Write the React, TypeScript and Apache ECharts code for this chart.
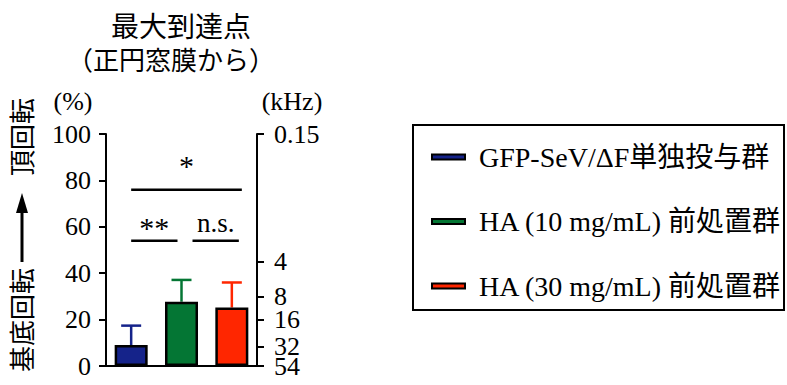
import React, { useEffect, useRef } from "react";
import * as echarts from "echarts";

const categories = ["GFP-SeV/ΔF単独投与群", "HA (10 mg/mL) 前処置群", "HA (30 mg/mL) 前処置群"];
const seriesNames = ["GFP-SeV/ΔF単独投与群", "HA (10 mg/mL) 前処置群", "HA (30 mg/mL) 前処置群"];
const meanValues = [9, 27.7, 25.2];
const errorValues = [8.4, 9.4, 10.8];
const barColors = ["#15238a", "#047634", "#ff2600"];
const rightTickPositions = [0, 8.3, 20, 30, 45, 100];
const rightTickLabels = ["54", "32", "16", "8", "4", "0.15"];
const sigPairs = [[0, 2], [0, 1], [1, 2]];
const sigLevels = [76, 54, 54];
const sigLabels = ["*", "**", "n.s."];

const SERIF = "'Liberation Serif', 'Times New Roman', 'Noto Sans CJK JP', serif";

function txt(text: string, x: number, y: number, size: number, extra: any = {}, align = "center") {
  return {
    type: "text",
    x,
    y,
    ...extra,
    style: { text, fontFamily: SERIF, fontSize: size, fill: "#000", align, verticalAlign: "middle" },
  };
}

export default function App() {
  const ref = useRef<HTMLDivElement>(null);
  useEffect(() => {
    document.body.style.margin = "0";
    const chart = echarts.init(ref.current!, null, { renderer: "svg" });

    const staticGraphics: any[] = [
      txt("最大到達点", 181, 27, 28),
      txt("（正円窓膜から）", 171, 61, 26),
      txt("(%)", 73, 101, 26),
      txt("(kHz)", 292, 101, 26),
      txt("基底回転", 23, 320, 26, { rotation: Math.PI / 2 }),
      txt("頂回転", 23, 137, 26, { rotation: Math.PI / 2 }),
      { type: "line", shape: { x1: 22, y1: 262, x2: 22, y2: 208 }, style: { stroke: "#000", lineWidth: 3 } },
      { type: "polygon", shape: { points: [[16, 213], [28, 213], [22, 193]] }, style: { fill: "#000" } },
      { type: "rect", shape: { x: 413, y: 125, width: 371, height: 185 }, style: { fill: "none", stroke: "#000", lineWidth: 2 } },
    ];

    const option: any = {
      animation: false,
      grid: { left: 106, right: 530, top: 134, bottom: 19, containLabel: false },
      legend: {
        orient: "vertical",
        left: 426,
        top: 137,
        icon: "rect",
        itemWidth: 33,
        itemHeight: 5,
        itemGap: 34.5,
        data: seriesNames,
        selectedMode: false,
        textStyle: { fontFamily: SERIF, fontSize: 28, color: "#000", lineHeight: 30, padding: [0, 0, 0, 9] },
      },
      xAxis: {
        type: "category",
        data: categories,
        axisLine: { lineStyle: { color: "#000", width: 2 } },
        axisTick: { show: false },
        axisLabel: { show: false },
      },
      yAxis: [
        {
          type: "value",
          min: 0,
          max: 100,
          interval: 20,
          position: "left",
          splitLine: { show: false },
          axisLine: { show: true, lineStyle: { color: "#000", width: 2 } },
          axisTick: { show: true, length: 7, lineStyle: { color: "#000", width: 2 } },
          axisLabel: { margin: 15, fontFamily: SERIF, fontSize: 26, color: "#000", showMinLabel: true, showMaxLabel: true },
        },
        {
          type: "value",
          min: 0,
          max: 100,
          position: "right",
          splitLine: { show: false },
          axisLine: { show: true, lineStyle: { color: "#000", width: 2 } },
          axisTick: { show: true, length: 7, lineStyle: { color: "#000", width: 2 }, customValues: rightTickPositions },
          axisLabel: { show: false },
        },
      ],
      series: [
        ...seriesNames.map((name, i) => ({
          name,
          type: "bar",
          barWidth: 33,
          barGap: "-100%",
          data: categories.map((_, j) => (j === i ? meanValues[i] : "-")),
          itemStyle: { color: barColors[i], borderColor: "#000", borderWidth: 2.5 },
          z: 3,
        })),
        {
          type: "custom",
          name: "err",
          z: 2,
          data: meanValues.map((v, i) => [i, v, v + errorValues[i]]),
          renderItem: (params: any, api: any) => {
            const i = api.value(0);
            const p0 = api.coord([i, api.value(1)]);
            const p1 = api.coord([i, api.value(2)]);
            const c = barColors[i];
            const hw = 10;
            return {
              type: "group",
              children: [
                { type: "line", shape: { x1: p0[0], y1: p0[1], x2: p1[0], y2: p1[1] }, style: { stroke: c, lineWidth: 2.5 } },
                { type: "line", shape: { x1: p1[0] - hw, y1: p1[1], x2: p1[0] + hw, y2: p1[1] }, style: { stroke: c, lineWidth: 2.5 } },
              ],
            };
          },
        },
      ],
      graphic: staticGraphics,
    };
    chart.setOption(option);

    const lineOffsets = [[0, 10], [0, -4], [11, 7]];
    const textLift = [24, 13, 18];
    const textSizes = [30, 30, 27];
    const dynGraphics: any[] = [];
    sigPairs.forEach((pair, k) => {
      const a = chart.convertToPixel({ gridIndex: 0 }, [pair[0], sigLevels[k]]) as number[];
      const b = chart.convertToPixel({ gridIndex: 0 }, [pair[1], sigLevels[k]]) as number[];
      const x1 = a[0] + lineOffsets[k][0];
      const x2 = b[0] + lineOffsets[k][1];
      const y = a[1];
      dynGraphics.push({ type: "line", shape: { x1, y1: y, x2, y2: y }, style: { stroke: "#000", lineWidth: 2.5 } });
      dynGraphics.push(txt(sigLabels[k], (x1 + x2) / 2, y - textLift[k], textSizes[k]));
    });
    const rightAxisX = chart.getWidth() - 530;
    rightTickPositions.forEach((p, i) => {
      const py = chart.convertToPixel({ yAxisIndex: 1 }, p) as number;
      dynGraphics.push(txt(rightTickLabels[i], rightAxisX + 17, py, 26, {}, "left"));
    });
    chart.setOption({ graphic: [...staticGraphics, ...dynGraphics] });

    return () => chart.dispose();
  }, []);
  return <div ref={ref} style={{ width: 787, height: 385 }} />;
}
